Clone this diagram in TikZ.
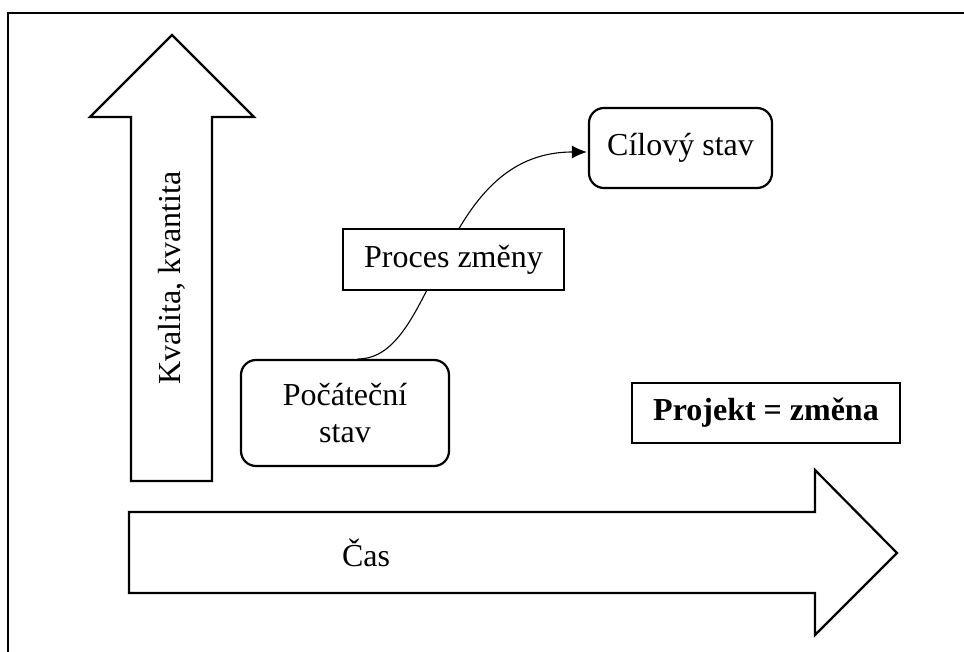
\documentclass[tikz,border=0pt]{standalone}
\usepackage{fontspec}
\setmainfont{Liberation Serif}
\usetikzlibrary{calc,arrows.meta}
\begin{document}
\begin{tikzpicture}[x=1pt,y=-1pt,
  txt/.style={font=\fontsize{32}{37}\selectfont, inner sep=0pt, align=center},
  roundbox/.style={draw, line width=2.2pt, rounded corners=15pt, fill=white,
    inner sep=0pt, align=center, font=\fontsize{32}{37}\selectfont},
  plainbox/.style={draw, line width=1.8pt, fill=white,
    inner sep=0pt, align=center, font=\fontsize{32}{37}\selectfont},
  bigarrow/.style={draw, line width=2.2pt, fill=white, line join=miter},
  flow/.style={line width=1.1pt, -{Latex[length=15pt,width=13pt]}}]
  \useasboundingbox (0,0) rectangle (964,652);

  % outer frame (top and left edges on the page)
  \draw[line width=2.8pt] (8,652) -- (8,13) -- (964,13);

  % vertical block arrow: quality / quantity
  \draw[bigarrow] (131,481) -- (131,117) -- (90,117) -- (172,35)
    -- (254,117) -- (212,117) -- (212,481) -- cycle;
  \node[txt, rotate=90] (kval) at (172,278) {Kvalita, kvantita};

  % horizontal block arrow: time
  \draw[bigarrow] (129,512) -- (815,512) -- (815,470) -- (897,553)
    -- (815,635) -- (815,593) -- (129,593) -- cycle;
  \node[txt] (cas) at (366,553) {Čas};

  % states
  \node[roundbox, minimum width=208, minimum height=106] (poc) at (345,413)
    {Počáteční\\stav};
  \node[roundbox, minimum width=183, minimum height=80] (cil) at (680.5,148)
    {Cílový stav};

  % transition curve, passing behind the process box
  \coordinate (start) at ($(poc.north west)!0.56!(poc.north east)$);
  \coordinate (stop) at ($(cil.west)+(-1,4)$);
  \draw[flow] (start) .. controls (438,360) and (436,152) .. (stop);

  \node[plainbox, minimum width=221, minimum height=61] (proc) at (453.5,259.5)
    {Proces změny};

  % statement box
  \node[plainbox, line width=2.2pt, minimum width=268, minimum height=60,
    font=\fontsize{32}{37}\selectfont\bfseries] (proj) at (766,413)
    {Projekt = změna};
\end{tikzpicture}
\end{document}
